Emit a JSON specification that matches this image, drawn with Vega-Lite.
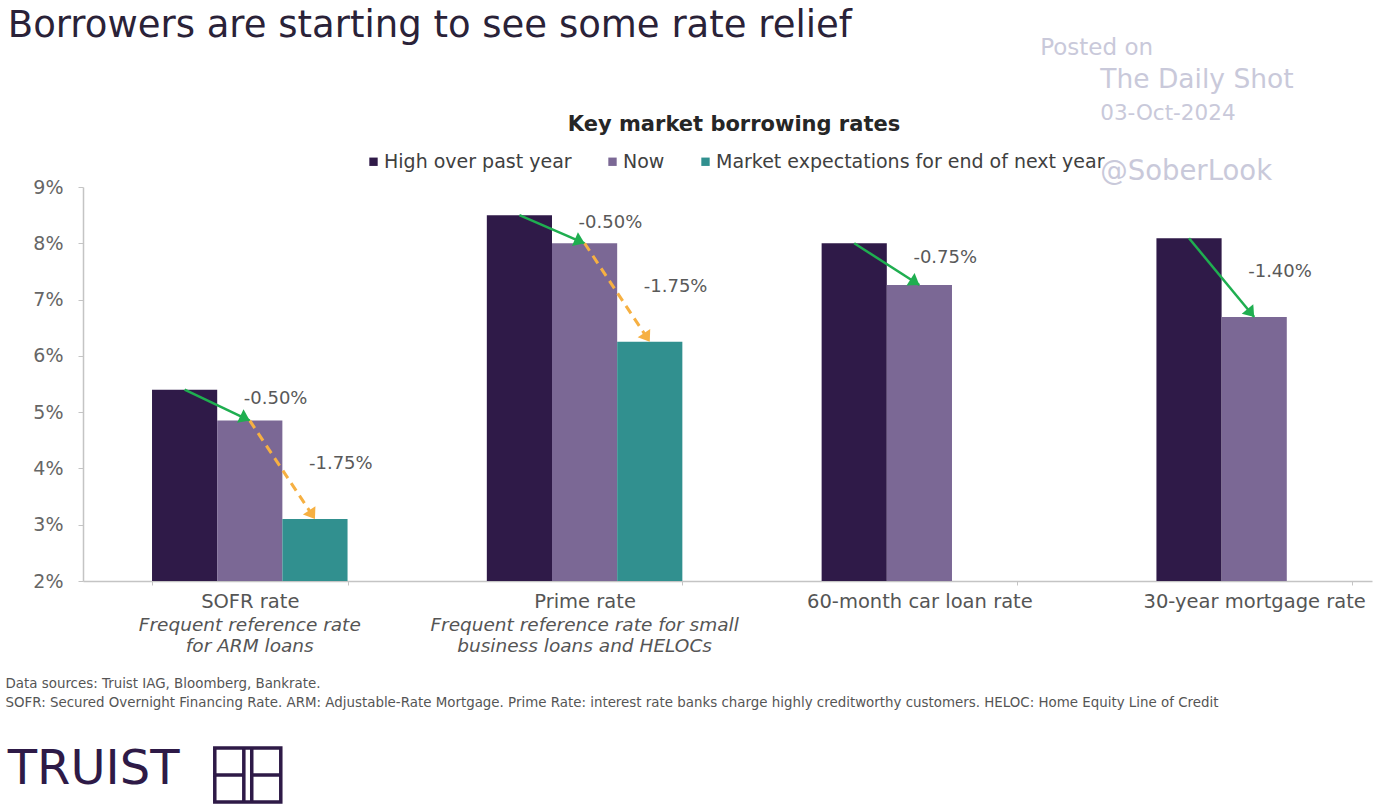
{
  "$schema": "https://vega.github.io/schema/vega-lite/v6.json",
  "width": 1289,
  "height": 394,
  "autosize": {"type": "none"},
  "padding": {"left": 83, "top": 187, "right": 2, "bottom": 226},
  "background": "white",
  "config": {"view": {"stroke": null}},
  "datasets": {
    "bars": [
      {"cat": "SOFR rate", "series": "High over past year", "rate": 5.40, "change": ""},
      {"cat": "SOFR rate", "series": "Now", "rate": 4.85, "change": "-0.50%"},
      {"cat": "SOFR rate", "series": "Market expectations for end of next year", "rate": 3.10, "change": "-1.75%"},
      {"cat": "Prime rate", "series": "High over past year", "rate": 8.50, "change": ""},
      {"cat": "Prime rate", "series": "Now", "rate": 8.00, "change": "-0.50%"},
      {"cat": "Prime rate", "series": "Market expectations for end of next year", "rate": 6.25, "change": "-1.75%"},
      {"cat": "60-month car loan rate", "series": "High over past year", "rate": 8.00, "change": ""},
      {"cat": "60-month car loan rate", "series": "Now", "rate": 7.26, "change": "-0.75%"},
      {"cat": "30-year mortgage rate", "series": "High over past year", "rate": 8.09, "change": ""},
      {"cat": "30-year mortgage rate", "series": "Now", "rate": 6.69, "change": "-1.40%"}
    ],
    "notes": [
      {"cat": "SOFR rate", "note": "Frequent reference rate\nfor ARM loans"},
      {"cat": "Prime rate", "note": "Frequent reference rate for small\nbusiness loans and HELOCs"}
    ]
  },
  "data": {"name": "bars"},
  "encoding": {
    "x": {
      "field": "cat",
      "type": "nominal",
      "sort": null,
      "scale": {
        "domain": ["SOFR rate", "Prime rate", "60-month car loan rate", "30-year mortgage rate"],
        "paddingInner": 0.416,
        "paddingOuter": 0.133,
        "align": 0.775
      },
      "axis": {
        "title": [
          "Data sources: Truist IAG, Bloomberg, Bankrate.",
          "SOFR: Secured Overnight Financing Rate. ARM: Adjustable-Rate Mortgage. Prime Rate: interest rate banks charge highly creditworthy customers. HELOC: Home Equity Line of Credit"
        ],
        "titleX": -78,
        "titleY": 95,
        "titleAnchor": "start",
        "titleAlign": "left",
        "titleBaseline": "top",
        "titleAngle": 0,
        "titleFont": "DejaVu Sans",
        "titleFontSize": 13.4,
        "titleFontWeight": "normal",
        "titleColor": "#555555",
        "titleLineHeight": 19,
        "titleLimit": 0,
        "labelFont": "DejaVu Sans",
        "labelFontSize": 19.5,
        "labelColor": "#555555",
        "labelPadding": 7,
        "labelAngle": 0,
        "labelLimit": 0,
        "tickSize": 4,
        "tickColor": "#c4c4c4",
        "tickBand": "extent",
        "domainColor": "#c4c4c4",
        "domainWidth": 1.5,
        "grid": false
      }
    }
  },
  "layer": [
    {
      "mark": {"type": "bar"},
      "encoding": {
        "xOffset": {
          "field": "series",
          "type": "nominal",
          "scale": {"domain": ["High over past year", "Now", "Market expectations for end of next year"], "paddingInner": 0, "paddingOuter": 0}
        },
        "y": {
          "field": "rate",
          "type": "quantitative",
          "scale": {"domain": [2, 9], "zero": false, "nice": false},
          "axis": {
            "title": null,
            "values": [2, 3, 4, 5, 6, 7, 8, 9],
            "labelExpr": "datum.value + '%'",
            "labelFont": "DejaVu Sans",
            "labelFontSize": 19,
            "labelColor": "#666666",
            "labelPadding": 15,
            "tickSize": 5,
            "tickColor": "#c4c4c4",
            "domainColor": "#c4c4c4",
            "domainWidth": 1.5,
            "grid": false
          }
        },
        "y2": {"datum": 2},
        "color": {
          "field": "series",
          "type": "nominal",
          "scale": {
            "domain": ["High over past year", "Now", "Market expectations for end of next year"],
            "range": ["#2f1a48", "#7b6895", "#31908f"]
          },
          "legend": {
            "orient": "none",
            "legendX": 281,
            "legendY": -73,
            "direction": "horizontal",
            "title": "Key market borrowing rates",
            "titleAnchor": "middle",
            "titleOrient": "top",
            "titleFont": "DejaVu Sans",
            "titleFontSize": 21,
            "titleFontWeight": "bold",
            "titleColor": "#262626",
            "titlePadding": 17,
            "titleLimit": 0,
            "labelFont": "DejaVu Sans",
            "labelFontSize": 19,
            "labelColor": "#404040",
            "labelOffset": 1,
            "labelLimit": 0,
            "symbolType": "square",
            "symbolSize": 70,
            "symbolStrokeWidth": 0,
            "columnPadding": 31,
            "padding": 0
          }
        }
      }
    },
    {
      "transform": [{"filter": "datum.series !== 'Market expectations for end of next year'"}],
      "mark": {"type": "line", "color": "#1fae50", "strokeWidth": 2.5},
      "encoding": {
        "xOffset": {"field": "series", "type": "nominal"},
        "y": {"field": "rate", "type": "quantitative"},
        "detail": {"field": "cat"}
      }
    },
    {
      "transform": [{"filter": "datum.series !== 'High over past year'"}],
      "mark": {"type": "line", "color": "#f6b042", "strokeWidth": 3, "strokeDash": [9, 6]},
      "encoding": {
        "xOffset": {"field": "series", "type": "nominal"},
        "y": {"field": "rate", "type": "quantitative"},
        "detail": {"field": "cat"}
      }
    },
    {
      "transform": [
        {"calculate": "indexof(['High over past year', 'Now', 'Market expectations for end of next year'], datum.series)", "as": "idx"},
        {"window": [{"op": "lag", "field": "rate", "as": "prev"}], "groupby": ["cat"], "sort": [{"field": "idx", "order": "ascending"}]},
        {"filter": "isValid(datum.prev)"},
        {"calculate": "atan2((datum.prev - datum.rate) * 56.29, 65.2) * 180 / PI", "as": "ang"}
      ],
      "mark": {"type": "point", "shape": "M0,0L-1.4,-1L-1.4,1Z", "filled": true, "size": 225, "opacity": 1},
      "encoding": {
        "xOffset": {"field": "series", "type": "nominal"},
        "y": {"field": "rate", "type": "quantitative"},
        "angle": {"field": "ang", "type": "quantitative", "scale": null},
        "color": {"condition": {"test": "datum.series === 'Now'", "value": "#1fae50"}, "value": "#f6b042"}
      }
    },
    {
      "transform": [
        {"calculate": "indexof(['High over past year', 'Now', 'Market expectations for end of next year'], datum.series)", "as": "idx"},
        {"window": [{"op": "lag", "field": "rate", "as": "prev"}], "groupby": ["cat"], "sort": [{"field": "idx", "order": "ascending"}]},
        {"filter": "isValid(datum.prev)"},
        {"calculate": "(datum.prev + datum.rate) / 2", "as": "mid"}
      ],
      "mark": {"type": "text", "align": "left", "baseline": "middle", "dx": -6, "dy": -6, "font": "DejaVu Sans", "fontSize": 18, "color": "#595959"},
      "encoding": {
        "xOffset": {"field": "series", "type": "nominal"},
        "y": {"field": "mid", "type": "quantitative"},
        "text": {"field": "change"}
      }
    },
    {
      "data": {"name": "notes"},
      "mark": {"type": "text", "font": "DejaVu Sans", "fontStyle": "italic", "fontSize": 18.5, "color": "#555555", "lineBreak": "\n", "baseline": "top", "lineHeight": 21, "dy": 35},
      "encoding": {
        "y": {"datum": 2},
        "text": {"field": "note"}
      }
    },
    {
      "data": {"values": [{"label": "Borrowers are starting to see some rate relief"}]},
      "mark": {"type": "text", "align": "left", "baseline": "alphabetic", "dx": -242, "dy": -150, "font": "DejaVu Sans", "fontSize": 37, "color": "#2a2238"},
      "encoding": {"x": {"datum": "SOFR rate"}, "y": {"datum": 9}, "text": {"field": "label"}}
    },
    {
      "data": {"values": [{"label": "Posted on"}]},
      "mark": {"type": "text", "align": "left", "baseline": "middle", "dx": -214, "dy": -139, "font": "DejaVu Sans", "fontSize": 23, "color": "#c9c9da"},
      "encoding": {"x": {"datum": "30-year mortgage rate"}, "y": {"datum": 9}, "text": {"field": "label"}}
    },
    {
      "data": {"values": [{"label": "The Daily Shot"}]},
      "mark": {"type": "text", "align": "left", "baseline": "middle", "dx": -154, "dy": -107, "font": "DejaVu Sans", "fontSize": 26.5, "color": "#c9c9da"},
      "encoding": {"x": {"datum": "30-year mortgage rate"}, "y": {"datum": 9}, "text": {"field": "label"}}
    },
    {
      "data": {"values": [{"label": "03-Oct-2024"}]},
      "mark": {"type": "text", "align": "left", "baseline": "middle", "dx": -154, "dy": -73, "font": "DejaVu Sans", "fontSize": 21.5, "color": "#c9c9da"},
      "encoding": {"x": {"datum": "30-year mortgage rate"}, "y": {"datum": 9}, "text": {"field": "label"}}
    },
    {
      "data": {"values": [{"label": "@SoberLook"}]},
      "mark": {"type": "text", "align": "left", "baseline": "middle", "dx": -154, "dy": -15, "font": "DejaVu Sans", "fontSize": 27.5, "color": "#c9c9da"},
      "encoding": {"x": {"datum": "30-year mortgage rate"}, "y": {"datum": 9}, "text": {"field": "label"}}
    },
    {
      "data": {"values": [{"label": "TRUIST"}]},
      "mark": {"type": "text", "align": "left", "baseline": "middle", "dx": -242, "dy": 189, "font": "DejaVu Sans", "fontSize": 48, "color": "#2e1a47"},
      "encoding": {"x": {"datum": "SOFR rate"}, "y": {"datum": 2}, "text": {"field": "label"}}
    },
    {
      "data": {"values": [{"label": "logo"}]},
      "mark": {"type": "point", "shape": "M-1,-0.82H1V0.82H-1Z M-0.12,-0.82V0.82 M0.12,-0.82V0.82 M-1,0H-0.12 M0.12,0H1", "filled": false, "size": 4356, "strokeWidth": 3.5, "color": "#2e1a47", "opacity": 1, "xOffset": -2, "yOffset": 194},
      "encoding": {"x": {"datum": "SOFR rate"}, "y": {"datum": 2}}
    }
  ]
}
